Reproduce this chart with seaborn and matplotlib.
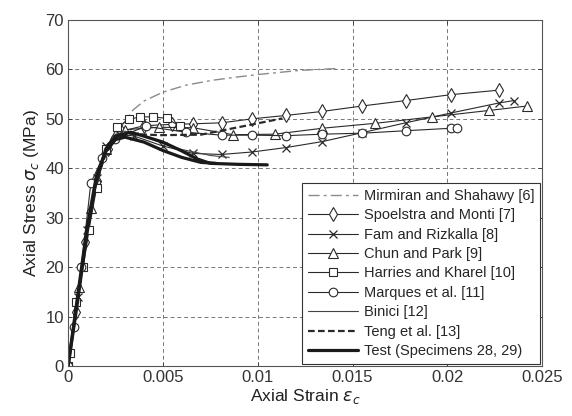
import numpy as np
import pandas as pd
import matplotlib
matplotlib.use("Agg")
import matplotlib.pyplot as plt
import seaborn as sns

# Stress-strain models for FRP-confined concrete (strain, stress in MPa)
mirmiran_x = [0.0, 0.001, 0.002, 0.003, 0.0034, 0.004, 0.005, 0.0062, 0.0076, 0.009, 0.0101, 0.0122, 0.0143]
mirmiran_y = [0.0, 28.0, 44.0, 49.5, 51.7, 53.6, 55.4, 56.8, 57.8, 58.5, 59.0, 59.8, 60.2]

spoel_x = [0.0, 0.0004, 0.0009, 0.0015, 0.0021, 0.0028, 0.0040, 0.0055, 0.0066, 0.0081, 0.0097, 0.0115, 0.0134, 0.0155, 0.0178, 0.0202, 0.0227]
spoel_y = [0.0, 11.0, 25.0, 37.5, 44.0, 47.5, 48.6, 48.9, 49.0, 49.2, 50.0, 50.7, 51.5, 52.6, 53.7, 54.9, 55.8]

fam_x = [0.0, 0.0005, 0.001, 0.0015, 0.002, 0.0027, 0.0035, 0.005, 0.0066, 0.0081, 0.0097, 0.0115, 0.0134, 0.0155, 0.0178, 0.0202, 0.0227, 0.0235]
fam_y = [0.0, 14.0, 27.5, 38.0, 44.5, 47.0, 46.5, 44.5, 43.0, 42.8, 43.3, 44.2, 45.4, 47.2, 49.2, 51.2, 53.2, 53.7]

chun_x = [0.0, 0.0006, 0.0012, 0.002, 0.003, 0.0048, 0.0066, 0.0087, 0.0109, 0.0134, 0.0162, 0.0192, 0.0222, 0.0242]
chun_y = [0.0, 16.0, 32.0, 44.0, 47.8, 48.3, 48.2, 46.8, 46.9, 48.1, 49.1, 50.4, 51.7, 52.6]

harries_x = [0.0, 0.0001, 0.0004, 0.0008, 0.0011, 0.0015, 0.002, 0.0026, 0.0032, 0.0038, 0.0045, 0.0052, 0.0059]
harries_y = [0.0, 2.6, 13.0, 20.0, 27.5, 36.0, 44.0, 48.3, 49.9, 50.4, 50.4, 50.1, 48.5]

marques_x = [0.0, 0.0003, 0.0007, 0.0012, 0.0018, 0.0025, 0.0041, 0.0062, 0.0081, 0.0097, 0.0115, 0.0134, 0.0155, 0.0178, 0.0202, 0.0205]
marques_y = [0.0, 8.0, 20.0, 37.0, 42.0, 46.0, 48.5, 47.3, 46.7, 46.7, 46.6, 46.9, 47.1, 47.6, 48.1, 48.1]

binici_x = [0.0, 0.0005, 0.001, 0.0015, 0.002, 0.0025, 0.003, 0.004, 0.005, 0.006, 0.0075, 0.0085]
binici_y = [0.0, 14.0, 27.0, 38.0, 44.0, 46.8, 47.5, 46.5, 45.0, 43.8, 42.6, 42.2]

teng_x = [0.0, 0.0005, 0.001, 0.0015, 0.002, 0.0025, 0.003, 0.0048, 0.007, 0.0091, 0.0113]
teng_y = [0.0, 14.0, 27.0, 37.5, 43.0, 46.0, 47.0, 46.7, 46.8, 48.4, 50.1]

test1_x = [0.0, 0.0005, 0.001, 0.0015, 0.002, 0.0025, 0.0033, 0.004, 0.005, 0.006, 0.0068, 0.0075, 0.009, 0.0105]
test1_y = [0.0, 13.0, 27.0, 38.0, 44.0, 46.5, 47.3, 46.5, 45.3, 43.5, 41.9, 41.0, 40.8, 40.7]

test2_x = [0.0, 0.0005, 0.001, 0.0015, 0.002, 0.0025, 0.003, 0.004, 0.005, 0.006, 0.007, 0.0078]
test2_y = [0.0, 14.0, 28.0, 38.5, 43.5, 45.8, 46.3, 45.3, 43.6, 42.2, 41.2, 41.0]

x_ticks = [0, 0.005, 0.01, 0.015, 0.02, 0.025]
x_tick_labels = ["0", "0.005", "0.01", "0.015", "0.02", "0.025"]

sns.set_theme(style="ticks")
plt.rcParams["font.family"] = ["Liberation Sans", "DejaVu Sans"]
plt.rcParams["mathtext.fontset"] = "dejavusans"

fig = plt.figure(figsize=(5.72, 4.16), dpi=100)
ax = fig.add_axes([0.119, 0.12, 0.829, 0.832])

dark = "#2a2a2a"
mk = dict(markerfacecolor="white", markeredgecolor=dark, markeredgewidth=0.8)

def draw(xs, ys, label, **kw):
    sns.lineplot(x=xs, y=ys, ax=ax, sort=False, estimator=None, label=label, **kw)

draw(mirmiran_x, mirmiran_y, "Mirmiran and Shahawy [6]", color="#8a8a8a", lw=1.0,
     linestyle=(0, (8, 3, 2, 3)))
draw(spoel_x, spoel_y, "Spoelstra and Monti [7]", color=dark, lw=0.8, marker="d",
     markersize=7.5, **mk)
draw(fam_x, fam_y, "Fam and Rizkalla [8]", color=dark, lw=0.8, marker="x",
     markersize=5.5, markeredgecolor=dark, markeredgewidth=0.9)
draw(chun_x, chun_y, "Chun and Park [9]", color=dark, lw=0.8, marker="^",
     markersize=6.5, **mk)
draw(harries_x, harries_y, "Harries and Kharel [10]", color=dark, lw=0.8, marker="s",
     markersize=5.8, **mk)
draw(marques_x, marques_y, "Marques et al. [11]", color=dark, lw=0.8, marker="o",
     markersize=6.2, **mk)
draw(binici_x, binici_y, "Binici [12]", color="#444444", lw=0.8)
draw(teng_x, teng_y, "Teng et al. [13]", color=dark, lw=1.6, linestyle=(0, (3, 1.5)))
draw(test1_x, test1_y, "Test (Specimens 28, 29)", color="#1a1a1a", lw=2.3)
draw(test2_x, test2_y, None, color="#1a1a1a", lw=2.3)

ax.set_xlim(0, 0.025)
ax.set_ylim(0, 70)
ax.set_xticks(x_ticks)
ax.set_xticklabels(x_tick_labels)
ax.set_yticks(range(0, 71, 10))
ax.grid(True, color="#777777", linestyle=(0, (4, 3)), linewidth=0.7)
ax.tick_params(direction="in", top=True, right=True, labelsize=12,
               colors="#333333", length=3, width=0.6, pad=3)
for s in ax.spines.values():
    s.set_color("#555555")
    s.set_linewidth(0.8)

ax.set_xlabel(r"Axial Strain $\varepsilon_c$", fontsize=12.5, color="#222222", labelpad=1)
ax.set_ylabel(r"Axial Stress $\sigma_c$ (MPa)", fontsize=12.5, color="#222222", labelpad=3)

handles, labels = ax.get_legend_handles_labels()
leg = ax.legend(handles, labels, loc="lower right", fontsize=10.5, frameon=True,
                fancybox=False, edgecolor="#333333", framealpha=1, handlelength=3.4,
                handletextpad=0.4, borderpad=0.4, labelspacing=0.37,
                borderaxespad=0.15, numpoints=1)
leg.get_frame().set_linewidth(0.8)

fig.savefig("out.png", dpi=100, facecolor="white")
